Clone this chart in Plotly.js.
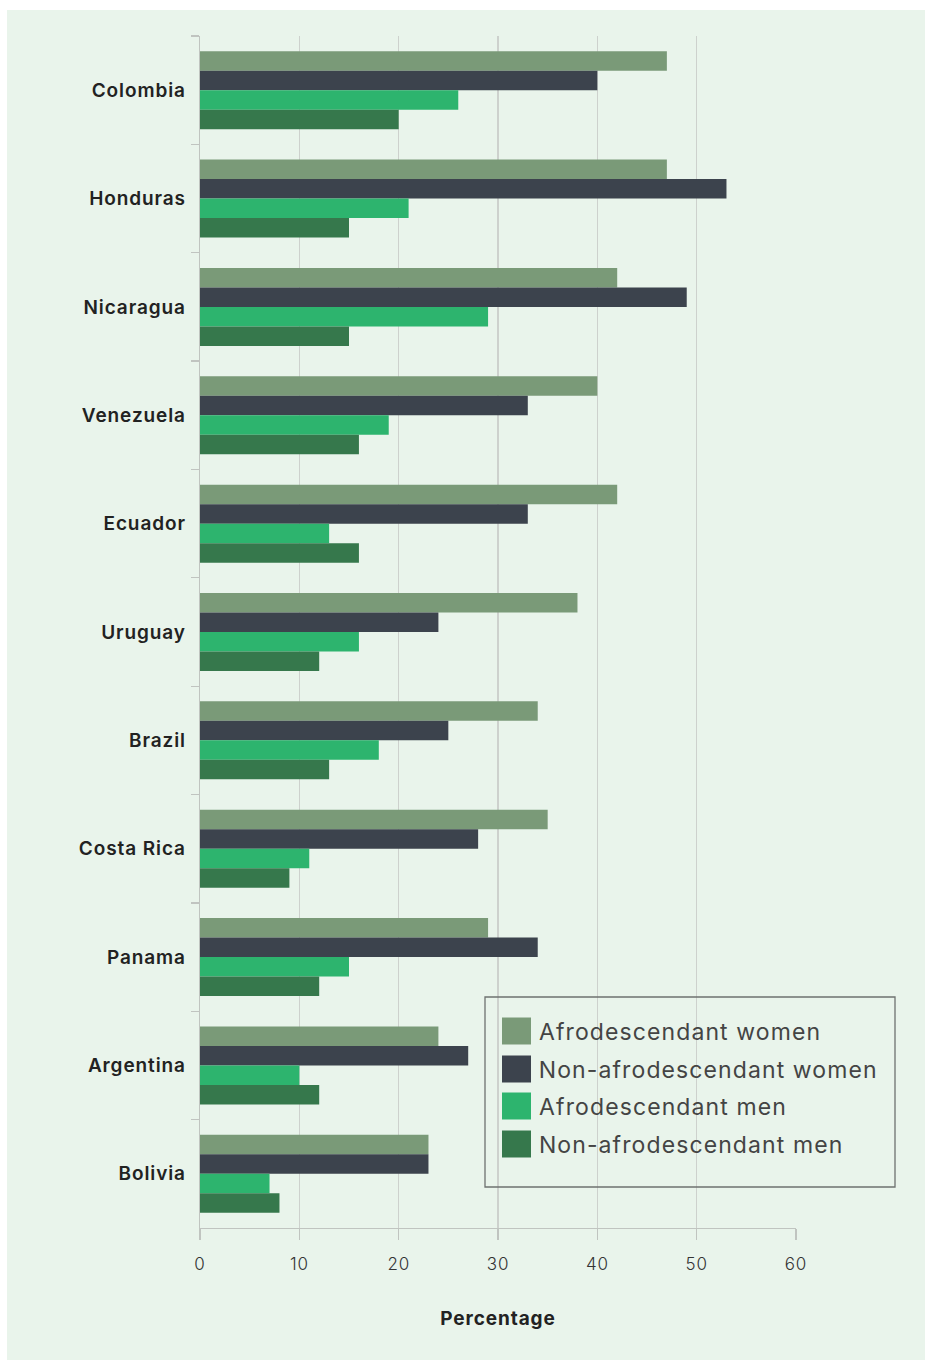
<!DOCTYPE html>
<html>
<head>
<meta charset="utf-8">
<script src="https://cdn.plot.ly/plotly-3.0.1.min.js"></script>
<style>
  html, body { margin:0; padding:0; background:#ffffff; }
  #chart { position:absolute; left:7px; top:10px; width:918px; height:1350px; }
  #chart .ytick text { letter-spacing: 0.9px; }
  #chart .xtick text { letter-spacing: 0.8px; }
  #chart .xtitle { letter-spacing: 0.9px; }
  #chart .annotation-text { letter-spacing: 1.1px; }
</style>
</head>
<body>
<div id="chart"></div>
<script>
// ---- data ----
const countries = ["Colombia","Honduras","Nicaragua","Venezuela","Ecuador","Uruguay","Brazil","Costa Rica","Panama","Argentina","Bolivia"];
const seriesNames = ["Afrodescendant women","Non-afrodescendant women","Afrodescendant men","Non-afrodescendant men"];
const afroWomen    = [47, 47, 42, 40, 42, 38, 34, 35, 29, 24, 23];
const nonAfroWomen = [40, 53, 49, 33, 33, 24, 25, 28, 34, 27, 23];
const afroMen      = [26, 21, 29, 19, 13, 16, 18, 11, 15, 10, 7];
const nonAfroMen   = [20, 15, 15, 16, 16, 12, 13, 9, 12, 12, 8];
const xTicks = [0, 10, 20, 30, 40, 50, 60];
const seriesColors = ["#7a9a78", "#3c434d", "#2db46e", "#36784c"];

const seriesValues = [afroWomen, nonAfroWomen, afroMen, nonAfroMen];

const traces = seriesValues.map((vals, i) => ({
  type: "bar",
  orientation: "h",
  name: seriesNames[i],
  x: vals,
  y: countries,
  marker: { color: seriesColors[i], line: { width: 0 } },
  hoverinfo: "x+y+name"
}));

// plot area in page pixels (div is offset by 7,10)
const W = 918, H = 1350;
const M = { l: 193, r: 129, t: 26, b: 132 };
const plotL = 7 + M.l, plotR = 7 + W - M.r, plotT = 10 + M.t, plotB = 10 + H - M.b;
const px = x => (x - plotL) / (plotR - plotL);
const py = y => (plotB - y) / (plotB - plotT);

// manual legend
const shapes = [{
  type: "rect", xref: "paper", yref: "paper",
  x0: px(485), x1: px(895), y0: py(1187), y1: py(997),
  line: { color: "#6e7270", width: 1.3 }, fillcolor: "rgba(0,0,0,0)", layer: "above"
}];
const annotations = [];
const itemY = [1031, 1069, 1106, 1144];
seriesNames.forEach((n, i) => {
  shapes.push({
    type: "rect", xref: "paper", yref: "paper",
    x0: px(502), x1: px(531), y0: py(itemY[i] + 13.5), y1: py(itemY[i] - 13.5),
    line: { width: 0 }, fillcolor: seriesColors[i], layer: "above"
  });
  // letter-spacing widens text around its centre, so offset by half the extra width
  const extra = n.length * 1.1 / 2;
  annotations.push({
    xref: "paper", yref: "paper", x: px(537 + extra), y: py(itemY[i] + 1),
    xanchor: "left", yanchor: "middle", showarrow: false,
    text: n, font: { family: "Inter, 'Open Sans', sans-serif", size: 23, color: "#444444" }
  });
});

const layout = {
  width: W, height: H,
  margin: M,
  paper_bgcolor: "#e9f4eb",
  plot_bgcolor: "#e9f4eb",
  showlegend: false,
  barmode: "group",
  bargap: 0.28,
  bargroupgap: 0,
  font: { family: "Inter, 'Open Sans', sans-serif", color: "#222222" },
  xaxis: {
    range: [0, 60],
    tickvals: xTicks,
    ticktext: xTicks.map(String),
    showgrid: true, gridcolor: "#cdd1cd", gridwidth: 1.3,
    zeroline: false,
    showline: true, linecolor: "#c0c4c0", linewidth: 1.3,
    ticks: "outside", ticklen: 11, tickcolor: "#c0c4c0", tickwidth: 1.3,
    ticklabelstandoff: 9,
    tickfont: { size: 17, color: "#333333", family: "Inter, sans-serif", weight: 300 },
    title: { text: "<b>Percentage</b>", font: { size: 19, color: "#222222" }, standoff: 39 },
    fixedrange: true
  },
  yaxis: {
    type: "category",
    autorange: "reversed",
    showgrid: false,
    showline: true, linecolor: "#c0c4c0", linewidth: 1.3,
    ticks: "outside", tickson: "boundaries", ticklen: 8, tickcolor: "#c0c4c0", tickwidth: 1.3,
    ticklabelstandoff: 9,
    tickfont: { size: 19, color: "#222222", family: "Inter, sans-serif", weight: 600 },
    fixedrange: true
  },
  shapes: shapes,
  annotations: annotations
};

Plotly.newPlot("chart", traces, layout, { displayModeBar: false, staticPlot: true });
</script>
</body>
</html>
